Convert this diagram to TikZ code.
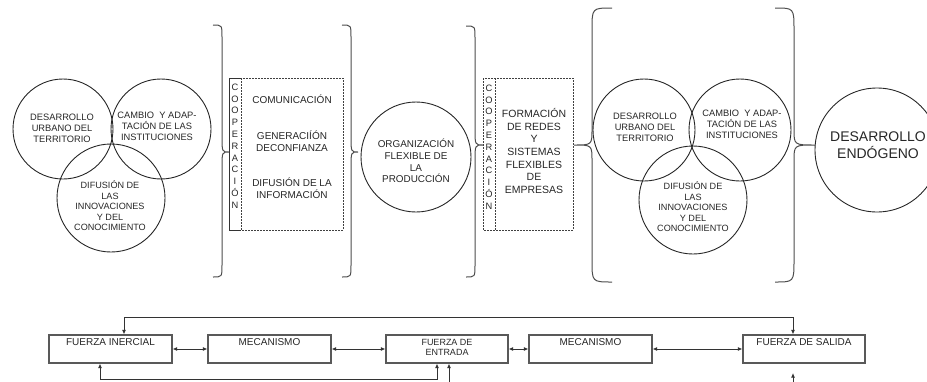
\documentclass[tikz,border=0pt]{standalone}
\usepackage{fontspec}
\setmainfont{Liberation Sans}
\usetikzlibrary{arrows.meta,positioning}
\newcommand\mybrace[8]{% v, tip, top, mid, bot, end, corner, tiphalf
  \draw[bracestyle] (#6,#3) .. controls (#1,#3) .. (#1,{#3+#7}) -- (#1,{#4-#8})
    .. controls (#1,#4) .. (#2,#4) .. controls (#1,#4) .. (#1,{#4+#8})
    -- (#1,{#5-#7}) .. controls (#1,#5) .. (#6,#5);}
\begin{document}
\begin{tikzpicture}[x=1pt,y=-1pt,
  circ/.style={draw=black!85, line width=0.9pt, circle, inner sep=0pt},
  vtxt/.style={font=\fontsize{9.3}{11}\selectfont, align=center, inner sep=0pt, text=black!85},
  btxt/.style={font=\fontsize{10}{12}\selectfont, align=center, inner sep=0pt, text=black!85},
  coop/.style={font=\fontsize{9.3}{11.8}\selectfont, align=center, inner sep=0pt, text=black!85},
  bracestyle/.style={draw=black!70, line width=1pt},
  dotbox/.style={draw=black!75, line width=0.8pt, dash pattern=on 1.8pt off 1.2pt},
  solbox/.style={draw=black!80, line width=0.9pt},
  fbox/.style={draw=black!65, line width=1.1pt, minimum width=123pt, minimum height=28pt, inner sep=0pt},
  tip/.tip={Latex[length=4.5pt,width=4pt]},
  arr/.style={-tip, line width=0.9pt, draw=black!80},
  dbl/.style={tip-tip, line width=0.9pt, draw=black!80}]
\useasboundingbox (0,0) rectangle (927,381);
\clip (0,0) rectangle (927,381);

% ---- left Venn
\node[circ, minimum size=100pt] (la) at (63,129) {};
\node[circ, minimum size=100pt] (lb) at (161,129) {};
\node[circ, minimum size=108pt] (lc) at (111,198) {};
\node[vtxt] (lat) at (62,128) {DESARROLLO\\URBANO DEL\\TERRITORIO};
\node[vtxt] (lbt) at (157,126) {CAMBIO \ Y ADAP-\\TACIÓN DE LAS\\INSTITUCIONES};
\node[vtxt, font=\fontsize{9.1}{10.5}\selectfont] (lct) at (110,206) {DIFUSIÓN DE\\LAS\\INNOVACIONES\\Y DEL\\CONOCIMIENTO};

% ---- braces
\mybrace{222}{229}{25}{152}{277}{213}{12}{16}
\mybrace{351}{358}{25}{152}{277}{342}{12}{16}
\mybrace{475}{483}{26}{145}{277}{466}{12}{16}
\mybrace{592}{574}{8}{145}{282}{612}{22}{16}
\mybrace{794}{815}{8}{145}{282}{775}{22}{16}

% ---- cooperation box 1
\draw[dotbox] (241,78) rectangle (343,230);
\draw[solbox] (241,78) -- (229,78) -- (229,230) -- (241,230);
\node[coop] (c1) at (235,146) {C\\O\\O\\P\\E\\R\\A\\C\\I\\Ó\\N};
\node[btxt] (com) at (292,99) {COMUNICACIÓN};
\node[btxt] (gen) at (292,141) {GENERACIÍÓN\\DECONFIANZA};
\node[btxt] (dif) at (292,188) {DIFUSIÓN DE LA\\INFORMACIÓN};

% ---- organization circle
\node[circ, minimum size=110pt] (org) at (416,157) {};
\node[vtxt, font=\fontsize{9.9}{11.7}\selectfont] (orgt) at (416,161) {ORGANIZACIÓN\\FLEXIBLE DE\\LA\\PRODUCCIÓN};

% ---- cooperation box 2
\draw[dotbox] (483,78) rectangle (573,230);
\draw[dotbox] (495,78) -- (495,230);
\node[coop] (c2) at (489,147) {C\\O\\O\\P\\E\\R\\A\\C\\I\\Ó\\N};
\node[btxt, font=\fontsize{10.5}{12.7}\selectfont] (form) at (534,151) {FORMACIÓN\\DE REDES\\Y\\SISTEMAS\\FLEXIBLES\\DE\\EMPRESAS};

% ---- right Venn
\node[circ, minimum size=102pt] (ra) at (644,130) {};
\node[circ, minimum size=102pt] (rb) at (740,130) {};
\node[circ, minimum size=108pt] (rc) at (693,200) {};
\node[vtxt] (rat) at (645,127) {DESARROLLO\\URBANO DEL\\TERRITORIO};
\node[vtxt] (rbt) at (742,124) {CAMBIO \ Y ADAP-\\TACIÓN DE LAS\\INSTITUCIONES};
\node[vtxt, font=\fontsize{9.1}{10.5}\selectfont] (rct) at (693,207) {DIFUSIÓN DE\\LAS\\INNOVACIONES\\Y DEL\\CONOCIMIENTO};

% ---- endogenous development
\node[circ, minimum size=124pt] (end) at (877,150) {};
\node[vtxt, font=\fontsize{14}{17}\selectfont] (endt) at (878,145) {DESARROLLO\\ENDÓGENO};

% ---- bottom chain
\node[fbox] (fi) at (110.5,349) {};
\node[fbox] (m1) at (269.5,349) {};
\node[fbox, minimum width=122pt] (fe) at (447,349) {};
\node[fbox] (m2) at (590.5,349) {};
\node[fbox, minimum width=122pt] (fs) at (804,349) {};
\node[btxt] (fit) at ([yshift=-8pt]fi.north) {FUERZA INERCIAL};
\node[btxt] (m1t) at ([yshift=-8pt]m1.north) {MECANISMO};
\node[btxt, font=\fontsize{9}{10.5}\selectfont] (fet) at ([yshift=-13pt]fe.north) {FUERZA DE\\ENTRADA};
\node[btxt] (m2t) at ([yshift=-8pt]m2.north) {MECANISMO};
\node[btxt] (fst) at ([yshift=-8pt]fs.north) {FUERZA DE SALIDA};

\draw[dbl] (fi.east) -- (m1.west);
\draw[dbl] (m1.east) -- (fe.west);
\draw[dbl] (fe.east) -- (m2.west);
\draw[dbl] (m2.east) -- (fs.west);

\coordinate (tl) at (124,317);
\coordinate (tr) at (793,317);
\draw[dbl] (fi.north -| tl) -- (tl) -- (tr) -- (fs.north -| tr);

\coordinate (bl) at (100,379.5);
\coordinate (br) at (437,379.5);
\draw[dbl] (fi.south -| bl) -- (bl) -- (br) -- (fe.south -| br);

\coordinate (b2) at (449,383);
\draw[arr] (b2) -- (fe.south -| b2);
\coordinate (b3) at (793,383);
\coordinate (b3t) at (793,373);
\draw[arr] (b3) -- (b3t);
\end{tikzpicture}
\end{document}
